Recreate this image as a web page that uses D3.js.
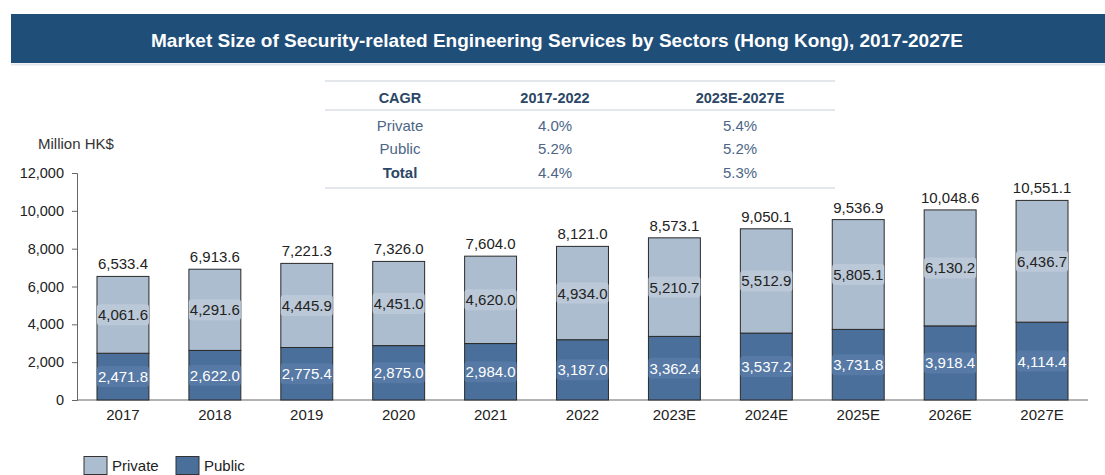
<!DOCTYPE html>
<html>
<head>
<meta charset="utf-8">
<script src="https://cdn.jsdelivr.net/npm/d3@7"></script>
<style>
  body { margin: 0; background: #fff; }
  svg { display: block; font-family: "Liberation Sans", Arial, sans-serif; }
</style>
</head>
<body>
<svg id="chart" width="1105" height="475"></svg>
<script>
// data
const years = ['2017', '2018', '2019', '2020', '2021', '2022', '2023E', '2024E', '2025E', '2026E', '2027E'];
const publicVals = [2471.8, 2622.0, 2775.4, 2875.0, 2984.0, 3187.0, 3362.4, 3537.2, 3731.8, 3918.4, 4114.4];
const privateVals = [4061.6, 4291.6, 4445.9, 4451.0, 4620.0, 4934.0, 5210.7, 5512.9, 5805.1, 6130.2, 6436.7];
const totals = [6533.4, 6913.6, 7221.3, 7326.0, 7604.0, 8121.0, 8573.1, 9050.1, 9536.9, 10048.6, 10551.1];
const yTicks = [0, 2000, 4000, 6000, 8000, 10000, 12000];

const cagrHeader = ['CAGR', '2017-2022', '2023E-2027E'];
const cagrRows = [
  ['Private', '4.0%', '5.4%'],
  ['Public', '5.2%', '5.2%'],
  ['Total', '4.4%', '5.3%']
];

const title = 'Market Size of Security-related Engineering Services by Sectors (Hong Kong), 2017-2027E';

const COLORS = {
  Private: '#adbdd0', Public: '#4a6f9a',
  PrivateLabel: '#bbc8d7', PublicLabel: '#5679a5'
};

const svg = d3.select('#chart');

// --- title bar ---
svg.append('rect').attr('x', 11).attr('y', 14).attr('width', 1094).attr('height', 49).attr('fill', '#1f4e79');
svg.append('line').attr('x1', 11).attr('x2', 1105).attr('y1', 64.5).attr('y2', 64.5)
  .attr('stroke', '#e4e8ee').attr('stroke-width', 2);
svg.append('text').attr('x', 557).attr('y', 47).attr('text-anchor', 'middle')
  .attr('fill', '#fff').style('font-size', '19px').style('font-weight', 'bold')
  .text(title);

// --- CAGR table ---
const tbl = svg.append('g');
const colX = [400, 555, 740];
[81, 110, 188].forEach(y => {
  tbl.append('line').attr('x1', 325).attr('x2', 835).attr('y1', y).attr('y2', y)
    .attr('stroke', '#e3e6ea').attr('stroke-width', 2);
});
cagrHeader.forEach((h, i) => {
  tbl.append('text').attr('x', colX[i]).attr('y', 103).attr('text-anchor', 'middle')
    .attr('fill', '#2c4766').style('font-size', '14.5px').style('font-weight', 'bold').text(h);
});
cagrRows.forEach((row, r) => {
  row.forEach((v, i) => {
    const bold = i === 0 && row[0] === 'Total';
    tbl.append('text').attr('x', colX[i]).attr('y', 130.5 + r * 23.5).attr('text-anchor', 'middle')
      .attr('fill', bold ? '#2c4766' : '#4c6686')
      .style('font-size', '15px').style('font-weight', bold ? 'bold' : 'normal').text(v);
  });
});

// --- chart ---
const x0 = 77, x1 = 1088, yBottom = 400, yTop = 173;
const x = d3.scaleBand().domain(years).range([x0, x1]).paddingInner(0.435).paddingOuter(0.2175);
const y = d3.scaleLinear().domain([0, 12000]).range([yBottom, yTop]);
const fmt = d3.format(',.1f');

svg.append('text').attr('x', 38).attr('y', 149).attr('fill', '#333')
  .style('font-size', '15px').text('Million HK$');

const yAxis = svg.append('g').attr('transform', `translate(${x0},0)`)
  .call(d3.axisLeft(y).tickValues(yTicks).tickFormat(d3.format(',')).tickSize(5).tickPadding(8));
yAxis.select('.domain').attr('stroke', '#666');
yAxis.selectAll('.tick line').attr('stroke', '#666');
yAxis.selectAll('.tick text').attr('fill', '#222').style('font-size', '14.5px').style('font-family', '"Liberation Sans", Arial, sans-serif');

const xAxis = svg.append('g').attr('transform', `translate(0,${yBottom})`)
  .call(d3.axisBottom(x).tickSize(0).tickPadding(9));
xAxis.select('.domain').attr('stroke', '#666').attr('d', `M${x0},0H${x1}`);
xAxis.selectAll('.tick text').attr('fill', '#222').style('font-size', '15px').style('font-family', '"Liberation Sans", Arial, sans-serif');

const series = d3.stack().keys(['Public', 'Private'])(years.map((yr, i) => ({
  year: yr, Public: publicVals[i], Private: privateVals[i]
})));

const bars = svg.append('g');
series.forEach(s => {
  bars.selectAll(null).data(s).enter().append('rect')
    .attr('x', d => x(d.data.year))
    .attr('y', d => y(d[1]))
    .attr('width', x.bandwidth())
    .attr('height', d => y(d[0]) - y(d[1]))
    .attr('fill', COLORS[s.key])
    .attr('stroke', '#2a2a2a').attr('stroke-width', 1);
});

// segment labels
const labels = svg.append('g');
series.forEach(s => {
  s.forEach(d => {
    const cx = x(d.data.year) + x.bandwidth() / 2;
    const cy = (y(d[0]) + y(d[1])) / 2;
    const txt = fmt(d[1] - d[0]);
    const g = labels.append('g');
    const t = g.append('text').attr('x', cx).attr('y', cy + 5.5).attr('text-anchor', 'middle')
      .attr('fill', s.key === 'Public' ? '#fff' : '#222')
      .style('font-size', '15px').text(txt);
    const bb = t.node().getBBox();
    g.insert('rect', 'text').attr('x', bb.x - 1).attr('y', cy - 10.5).attr('width', bb.width + 2).attr('height', 21)
      .attr('rx', 3).attr('fill', COLORS[s.key + 'Label']);
  });
});

// totals
svg.append('g').selectAll('text').data(years).enter().append('text')
  .attr('x', d => x(d) + x.bandwidth() / 2)
  .attr('y', (d, i) => y(totals[i]) - 7)
  .attr('text-anchor', 'middle').attr('fill', '#222').style('font-size', '15px')
  .text((d, i) => fmt(totals[i]));

// legend
const legend = svg.append('g');
[['Private', 84], ['Public', 176]].forEach(([k, lx]) => {
  legend.append('rect').attr('x', lx).attr('y', 456.5).attr('width', 23).attr('height', 18)
    .attr('fill', COLORS[k]).attr('stroke', '#333').attr('stroke-width', 1);
  legend.append('text').attr('x', lx + 28).attr('y', 471).attr('fill', '#222')
    .style('font-size', '15px').text(k);
});
</script>
</body>
</html>
